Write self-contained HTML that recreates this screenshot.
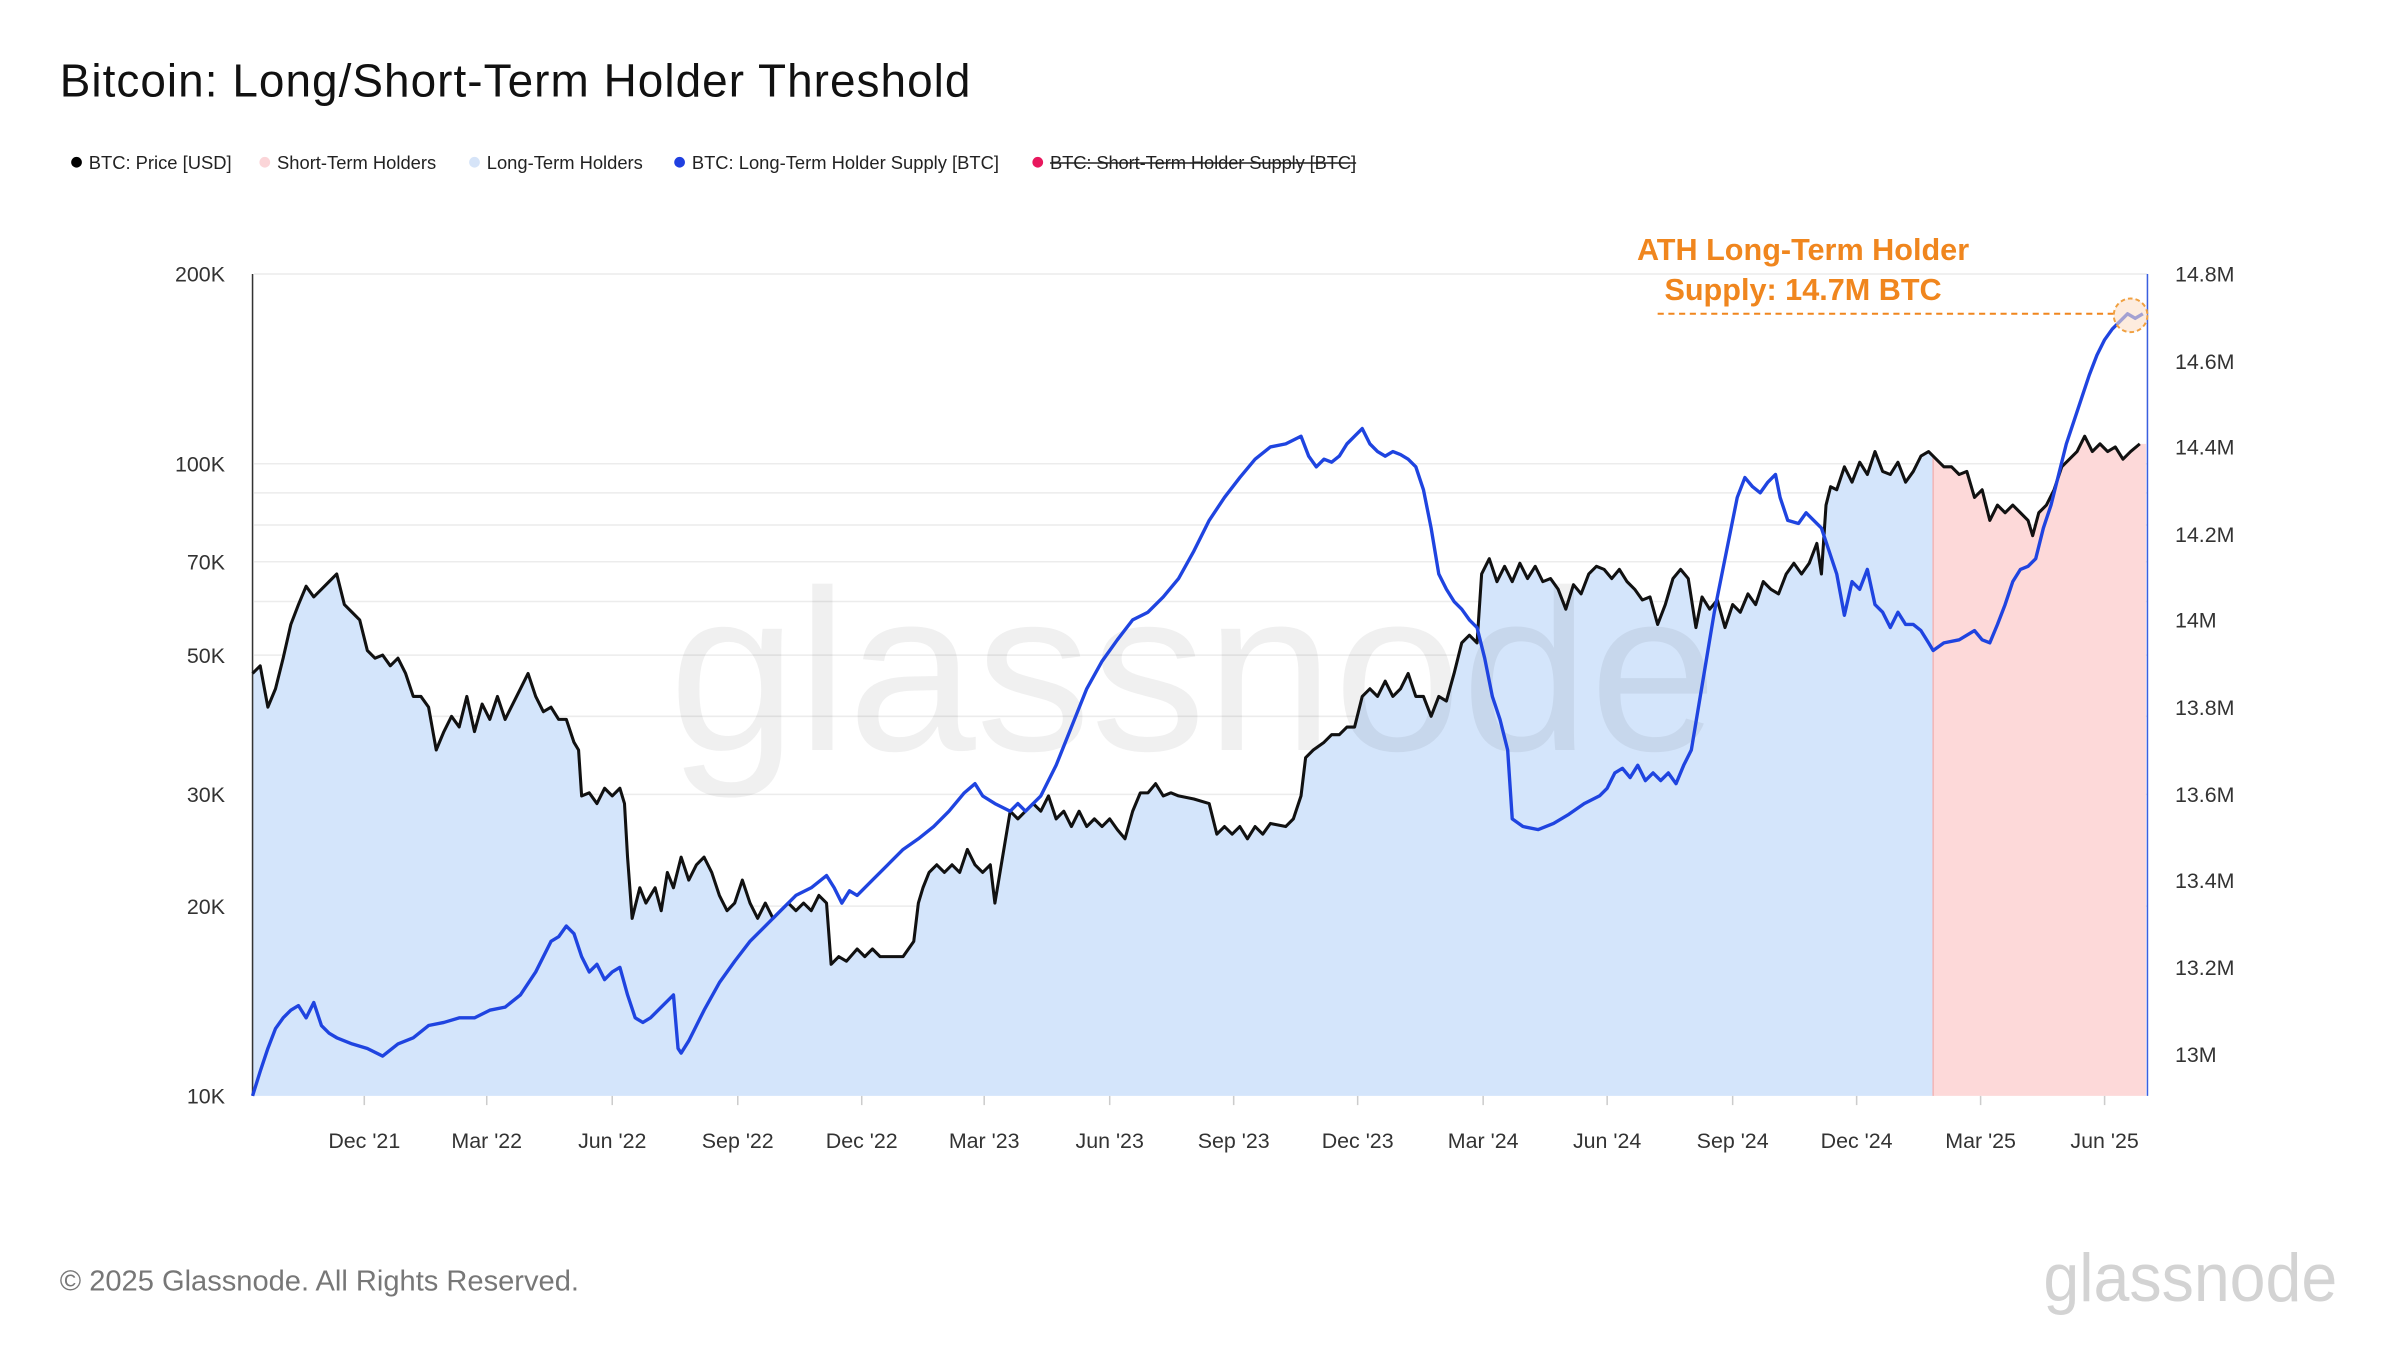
<!DOCTYPE html>
<html><head><meta charset="utf-8"><style>
html,body{margin:0;padding:0;background:#fff;}
svg{display:block;font-family:"Liberation Sans",sans-serif;}
</style></head><body>
<svg width="2400" height="1350" viewBox="0 0 1568 882" xmlns="http://www.w3.org/2000/svg">
<rect width="1568" height="882" fill="#fff"/>
<text x="39" y="63" font-size="30" fill="#111" textLength="595">Bitcoin: Long/Short-Term Holder Threshold</text>
<g font-size="12" fill="#222">
<circle cx="50" cy="106" r="3.5" fill="#000"/><text x="58" y="110.5">BTC: Price [USD]</text>
<circle cx="173" cy="106" r="3.5" fill="#fbd5d8"/><text x="181" y="110.5">Short-Term Holders</text>
<circle cx="310" cy="106" r="3.5" fill="#d6e4f8"/><text x="318" y="110.5">Long-Term Holders</text>
<circle cx="444" cy="106" r="3.5" fill="#1f3fe0"/><text x="452" y="110.5">BTC: Long-Term Holder Supply [BTC]</text>
<circle cx="678" cy="106" r="3.5" fill="#e8175d"/><text x="686" y="110.5" textLength="200">BTC: Short-Term Holder Supply [BTC]</text>
<line x1="686" y1="106.5" x2="886" y2="106.5" stroke="#222" stroke-width="1"/>
</g>
<g stroke="#ececec" stroke-width="1">
<line x1="166" y1="179" x2="1403" y2="179"/><line x1="166" y1="303" x2="1403" y2="303"/>
<line x1="166" y1="322" x2="1403" y2="322"/><line x1="166" y1="343" x2="1403" y2="343"/>
<line x1="166" y1="367" x2="1403" y2="367"/><line x1="166" y1="393" x2="1403" y2="393"/>
<line x1="166" y1="428" x2="1403" y2="428"/><line x1="166" y1="468" x2="1403" y2="468"/>
<line x1="166" y1="519" x2="1403" y2="519"/><line x1="166" y1="592" x2="1403" y2="592"/>
</g>
<polygon fill="#d4e5fb" points="165,716 165,440 170,435 175,462 180,450 185,430 190,408 195,395 200,383 205,390 210,385 215,380 220,375 225,395 230,400 235,405 240,425 245,430 250,428 255,435 260,430 265,440 270,455 275,455 280,462 285,490 290,478 295,468 300,475 305,455 310,478 315,460 320,470 325,455 330,470 335,460 340,450 345,440 350,455 355,465 360,462 365,470 370,470 375,485 378,490 380,520 385,518 390,525 395,515 400,520 405,515 408,525 410,560 413,600 418,580 422,590 428,580 432,595 436,570 440,580 445,560 450,575 455,565 460,560 465,570 470,585 475,595 480,590 485,575 490,590 495,600 500,590 505,600 510,595 515,590 520,595 525,590 530,595 535,585 540,590 543,630 548,625 553,628 560,620 565,625 570,620 575,625 580,625 590,625 597,615 600,590 603,580 607,570 612,565 617,570 622,565 627,570 632,555 637,565 642,570 647,565 650,590 655,560 660,530 665,535 670,530 675,525 680,530 685,520 690,535 695,530 700,540 705,530 710,540 715,535 720,540 725,535 730,542 735,548 740,530 745,518 750,518 755,512 760,520 765,518 770,520 780,522 790,525 795,545 800,540 805,545 810,540 815,548 820,540 825,545 830,538 840,540 845,535 850,520 853,495 858,490 865,485 870,480 875,480 880,475 885,475 890,455 895,450 900,455 905,445 910,455 915,450 920,440 925,455 930,455 935,468 940,455 945,458 950,440 955,420 960,415 965,420 968,375 973,365 978,380 983,370 988,380 993,368 998,378 1003,370 1008,380 1013,378 1018,385 1023,398 1028,382 1033,388 1038,375 1043,370 1048,372 1053,378 1058,372 1063,380 1068,385 1073,392 1078,390 1083,408 1088,395 1093,378 1098,372 1103,378 1108,410 1112,390 1117,398 1122,392 1127,410 1132,395 1137,400 1142,388 1147,395 1152,380 1157,385 1162,388 1167,375 1172,368 1177,375 1182,368 1187,355 1190,375 1193,330 1196,318 1200,320 1205,305 1210,315 1215,302 1220,310 1225,295 1230,308 1235,310 1240,302 1245,315 1250,308 1255,298 1260,295 1263,297 1263,716"/>
<polygon fill="#fdd9d9" points="1263,716 1263,297 1265,300 1270,305 1275,305 1280,310 1285,308 1290,325 1295,320 1300,340 1305,330 1310,335 1315,330 1320,335 1325,340 1328,350 1332,335 1337,330 1342,320 1347,305 1352,300 1357,295 1362,285 1367,295 1372,290 1377,295 1382,292 1387,300 1392,295 1398,290 1402,290 1402,716"/>
<text x="437" y="490" font-size="150" fill="#000" fill-opacity="0.06" textLength="685" lengthAdjust="spacingAndGlyphs">glassnode</text>
<line x1="1263" y1="297" x2="1263" y2="716" stroke="#f3b6b6" stroke-width="1"/>
<line x1="165" y1="179" x2="165" y2="716" stroke="#333" stroke-width="1"/>
<line x1="1403" y1="179" x2="1403" y2="716" stroke="#3a5fe0" stroke-width="1"/>
<polyline fill="none" stroke="#111" stroke-width="2" stroke-linejoin="round" points="165,440 170,435 175,462 180,450 185,430 190,408 195,395 200,383 205,390 210,385 215,380 220,375 225,395 230,400 235,405 240,425 245,430 250,428 255,435 260,430 265,440 270,455 275,455 280,462 285,490 290,478 295,468 300,475 305,455 310,478 315,460 320,470 325,455 330,470 335,460 340,450 345,440 350,455 355,465 360,462 365,470 370,470 375,485 378,490 380,520 385,518 390,525 395,515 400,520 405,515 408,525 410,560 413,600 418,580 422,590 428,580 432,595 436,570 440,580 445,560 450,575 455,565 460,560 465,570 470,585 475,595 480,590 485,575 490,590 495,600 500,590 505,600 510,595 515,590 520,595 525,590 530,595 535,585 540,590 543,630 548,625 553,628 560,620 565,625 570,620 575,625 580,625 590,625 597,615 600,590 603,580 607,570 612,565 617,570 622,565 627,570 632,555 637,565 642,570 647,565 650,590 655,560 660,530 665,535 670,530 675,525 680,530 685,520 690,535 695,530 700,540 705,530 710,540 715,535 720,540 725,535 730,542 735,548 740,530 745,518 750,518 755,512 760,520 765,518 770,520 780,522 790,525 795,545 800,540 805,545 810,540 815,548 820,540 825,545 830,538 840,540 845,535 850,520 853,495 858,490 865,485 870,480 875,480 880,475 885,475 890,455 895,450 900,455 905,445 910,455 915,450 920,440 925,455 930,455 935,468 940,455 945,458 950,440 955,420 960,415 965,420 968,375 973,365 978,380 983,370 988,380 993,368 998,378 1003,370 1008,380 1013,378 1018,385 1023,398 1028,382 1033,388 1038,375 1043,370 1048,372 1053,378 1058,372 1063,380 1068,385 1073,392 1078,390 1083,408 1088,395 1093,378 1098,372 1103,378 1108,410 1112,390 1117,398 1122,392 1127,410 1132,395 1137,400 1142,388 1147,395 1152,380 1157,385 1162,388 1167,375 1172,368 1177,375 1182,368 1187,355 1190,375 1193,330 1196,318 1200,320 1205,305 1210,315 1215,302 1220,310 1225,295 1230,308 1235,310 1240,302 1245,315 1250,308 1255,298 1260,295 1265,300 1270,305 1275,305 1280,310 1285,308 1290,325 1295,320 1300,340 1305,330 1310,335 1315,330 1320,335 1325,340 1328,350 1332,335 1337,330 1342,320 1347,305 1352,300 1357,295 1362,285 1367,295 1372,290 1377,295 1382,292 1387,300 1392,295 1398,290"/>
<polyline fill="none" stroke="#1f44e0" stroke-width="2.2" stroke-linejoin="round" points="165,716 170,700 175,685 180,672 185,665 190,660 195,657 200,665 205,655 210,670 215,675 220,678 230,682 240,685 250,690 260,682 270,678 280,670 290,668 300,665 310,665 320,660 330,658 340,650 350,635 360,615 365,612 370,605 375,610 380,625 385,635 390,630 395,640 400,635 405,632 410,650 415,665 420,668 425,665 430,660 435,655 440,650 443,685 445,688 450,680 460,660 470,642 480,628 490,615 500,605 510,595 520,585 530,580 540,572 545,580 550,590 555,582 560,585 570,575 580,565 590,555 600,548 610,540 620,530 630,518 637,512 642,520 650,525 660,530 665,525 670,530 680,520 690,500 700,475 710,450 720,432 730,418 740,405 750,400 760,390 770,378 780,360 790,340 800,325 810,312 820,300 830,292 840,290 850,285 855,298 860,305 865,300 870,302 875,298 880,290 885,285 890,280 895,290 900,295 905,298 910,295 915,297 920,300 925,305 930,320 935,345 940,375 945,385 950,393 955,398 960,405 965,410 970,430 975,455 980,470 985,490 988,535 995,540 1005,542 1015,538 1025,532 1035,525 1045,520 1050,515 1055,505 1060,502 1065,508 1070,500 1075,510 1080,505 1085,510 1090,505 1095,512 1100,500 1105,490 1110,460 1115,430 1120,400 1125,375 1130,350 1135,325 1140,312 1145,318 1150,322 1155,315 1160,310 1163,325 1168,340 1175,342 1180,335 1185,340 1190,345 1195,360 1200,375 1205,402 1210,380 1215,385 1220,372 1225,395 1230,400 1235,410 1240,400 1245,408 1250,408 1255,412 1260,420 1263,425 1270,420 1280,418 1290,412 1295,418 1300,420 1305,408 1310,395 1315,380 1320,372 1325,370 1330,365 1335,345 1340,330 1345,310 1350,290 1355,275 1360,260 1365,245 1370,232 1375,222 1380,215 1385,210 1390,205 1395,208 1400,205"/>
<line x1="1083" y1="205" x2="1382" y2="205" stroke="#f0861e" stroke-width="1.3" stroke-dasharray="4,3"/>
<circle cx="1392" cy="206" r="11" fill="#fbe0c8" fill-opacity="0.6" stroke="#f0a040" stroke-width="1.3" stroke-dasharray="3,2"/>
<g font-size="20" font-weight="bold" fill="#f0861e" text-anchor="middle">
<text x="1178" y="170">ATH Long-Term Holder</text>
<text x="1178" y="196">Supply: 14.7M BTC</text>
</g>
<g font-size="14" fill="#333" text-anchor="end">
<text x="147" y="184">200K</text><text x="147" y="308">100K</text><text x="147" y="372">70K</text>
<text x="147" y="433">50K</text><text x="147" y="524">30K</text><text x="147" y="597">20K</text><text x="147" y="721">10K</text>
</g>
<g font-size="14" fill="#333">
<text x="1421" y="184">14.8M</text><text x="1421" y="241">14.6M</text><text x="1421" y="297">14.4M</text>
<text x="1421" y="354">14.2M</text><text x="1421" y="410">14M</text><text x="1421" y="467">13.8M</text>
<text x="1421" y="524">13.6M</text><text x="1421" y="580">13.4M</text><text x="1421" y="637">13.2M</text><text x="1421" y="694">13M</text>
</g>
<g font-size="14" fill="#333" text-anchor="middle">
<text x="238" y="750">Dec '21</text><text x="318" y="750">Mar '22</text><text x="400" y="750">Jun '22</text>
<text x="482" y="750">Sep '22</text><text x="563" y="750">Dec '22</text><text x="643" y="750">Mar '23</text>
<text x="725" y="750">Jun '23</text><text x="806" y="750">Sep '23</text><text x="887" y="750">Dec '23</text>
<text x="969" y="750">Mar '24</text><text x="1050" y="750">Jun '24</text><text x="1132" y="750">Sep '24</text>
<text x="1213" y="750">Dec '24</text><text x="1294" y="750">Mar '25</text><text x="1375" y="750">Jun '25</text>
</g>
<g stroke="#ccc" stroke-width="1">
<line x1="238" y1="716" x2="238" y2="722"/><line x1="318" y1="716" x2="318" y2="722"/><line x1="400" y1="716" x2="400" y2="722"/>
<line x1="482" y1="716" x2="482" y2="722"/><line x1="563" y1="716" x2="563" y2="722"/><line x1="643" y1="716" x2="643" y2="722"/>
<line x1="725" y1="716" x2="725" y2="722"/><line x1="806" y1="716" x2="806" y2="722"/><line x1="887" y1="716" x2="887" y2="722"/>
<line x1="969" y1="716" x2="969" y2="722"/><line x1="1050" y1="716" x2="1050" y2="722"/><line x1="1132" y1="716" x2="1132" y2="722"/>
<line x1="1213" y1="716" x2="1213" y2="722"/><line x1="1294" y1="716" x2="1294" y2="722"/><line x1="1375" y1="716" x2="1375" y2="722"/>
</g>
<text x="39" y="843" font-size="19" fill="#777">© 2025 Glassnode. All Rights Reserved.</text>
<text x="1335" y="850" font-size="44" fill="#d3d3d3" textLength="192" lengthAdjust="spacingAndGlyphs">glassnode</text>
</svg>
</body></html>
